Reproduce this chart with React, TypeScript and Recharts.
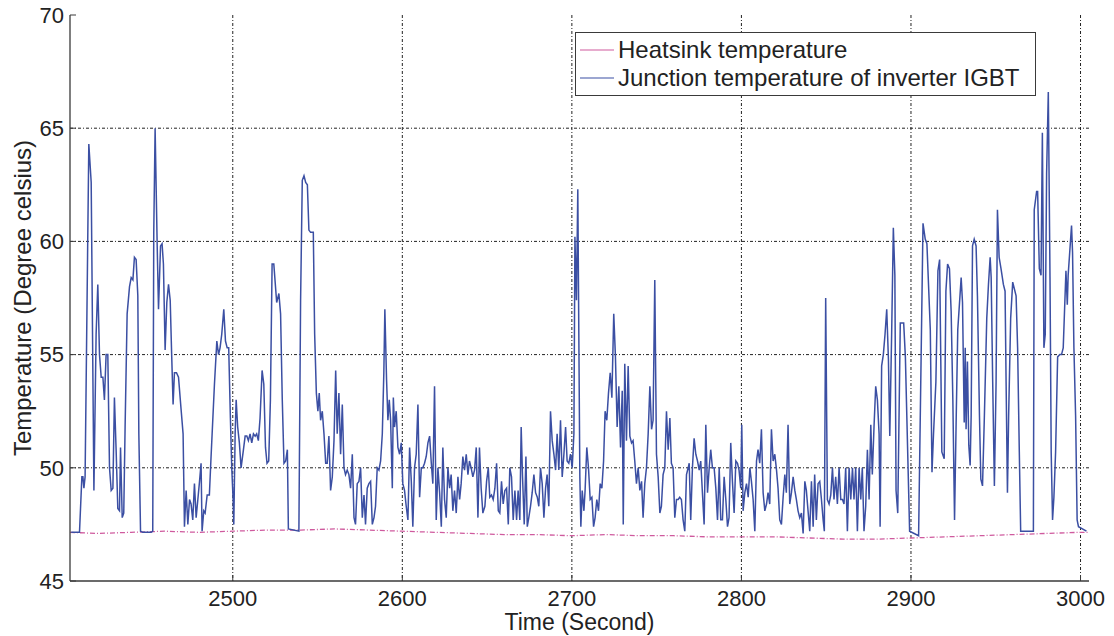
import React from 'react';
import { LineChart, Line, XAxis, YAxis, CartesianGrid, Legend } from 'recharts';

const timeTicks = [2500, 2600, 2700, 2800, 2900, 3000];
const tempTicks = [45, 50, 55, 60, 65, 70];

const heatsinkSec = [2404, 2420, 2440, 2460, 2480, 2500, 2520, 2540, 2560, 2580, 2600, 2620, 2640, 2660, 2680, 2700, 2720, 2740, 2760, 2780, 2800, 2820, 2840, 2860, 2880, 2900, 2920, 2940, 2960, 2980, 3000, 3005];
const heatsinkTemp = [47.15, 47.1, 47.15, 47.2, 47.15, 47.2, 47.25, 47.25, 47.3, 47.25, 47.2, 47.15, 47.1, 47.05, 47.05, 47.0, 47.05, 47.0, 47.0, 46.95, 46.95, 46.95, 46.9, 46.85, 46.85, 46.9, 46.95, 47.0, 47.05, 47.1, 47.15, 47.15];

const junctionSec = [
  2404.7, 2409.6, 2411.0, 2411.6, 2412.2, 2412.9, 2415.1, 2416.5, 2418.1, 2419.4, 2420.4, 2421.4, 2422.4, 2423.4, 2424.3, 2425.3, 2426.3, 2427.3, 2428.3, 2429.3,
  2430.2, 2431.2, 2432.2, 2433.2, 2433.8, 2434.8, 2435.7, 2436.5, 2437.7, 2439.1, 2440.1, 2441.1, 2442.0, 2443.0, 2444.0, 2444.6, 2445.6, 2446.9, 2451.9, 2452.8,
  2453.4, 2454.2, 2455.4, 2456.2, 2457.4, 2458.3, 2459.1, 2460.1, 2461.1, 2462.1, 2463.1, 2464.0, 2464.8, 2465.6, 2466.8, 2468.0, 2469.5, 2470.7, 2471.5, 2472.5,
  2473.5, 2474.5, 2475.4, 2476.4, 2477.4, 2478.4, 2479.4, 2480.4, 2481.3, 2481.9, 2482.9, 2483.7, 2484.9, 2486.2, 2487.2, 2489.2, 2490.6, 2491.6, 2492.5, 2493.5,
  2494.7, 2495.7, 2496.7, 2497.6, 2498.6, 2499.4, 2500.2, 2500.6, 2501.4, 2502.0, 2502.9, 2503.9, 2504.9, 2506.3, 2507.3, 2508.3, 2509.2, 2510.2, 2511.2, 2512.2,
  2513.2, 2514.1, 2515.1, 2516.1, 2517.3, 2518.3, 2519.3, 2520.2, 2521.2, 2522.2, 2523.2, 2524.2, 2525.9, 2527.2, 2528.2, 2529.2, 2530.2, 2531.2, 2532.2, 2532.8,
  2539.0, 2540.0, 2541.0, 2542.0, 2543.0, 2544.0, 2544.9, 2545.9, 2547.5, 2548.3, 2549.3, 2550.2, 2551.0, 2551.8, 2552.8, 2553.8, 2554.8, 2555.7, 2556.7, 2557.7,
  2558.7, 2559.7, 2560.7, 2561.6, 2562.6, 2563.6, 2564.6, 2565.6, 2566.5, 2567.5, 2568.5, 2569.5, 2570.5, 2571.5, 2572.4, 2573.4, 2574.4, 2575.4, 2576.4, 2577.4,
  2578.3, 2579.3, 2580.3, 2581.3, 2582.3, 2583.3, 2584.2, 2585.2, 2586.2, 2587.2, 2588.2, 2589.1, 2589.7, 2590.7, 2591.5, 2592.3, 2593.1, 2594.1, 2594.7, 2595.4,
  2596.4, 2597.4, 2598.4, 2599.4, 2600.3, 2601.3, 2602.3, 2603.3, 2604.3, 2605.3, 2606.2, 2607.2, 2608.2, 2609.2, 2610.2, 2611.2, 2612.1, 2613.1, 2614.1, 2615.1,
  2616.1, 2617.1, 2618.0, 2619.0, 2620.0, 2621.0, 2622.0, 2623.0, 2623.9, 2624.9, 2625.9, 2626.9, 2627.9, 2628.8, 2629.8, 2630.8, 2631.8, 2632.8, 2633.8, 2634.7,
  2635.7, 2636.7, 2637.7, 2638.7, 2639.6, 2640.6, 2641.6, 2642.6, 2643.6, 2644.6, 2645.5, 2646.5, 2647.5, 2648.7, 2649.7, 2650.7, 2651.6, 2652.6, 2653.6, 2654.6,
  2655.6, 2656.6, 2657.5, 2658.5, 2659.5, 2660.5, 2661.5, 2662.5, 2663.4, 2664.4, 2665.4, 2666.4, 2667.4, 2668.3, 2669.3, 2670.1, 2670.9, 2671.9, 2672.9, 2673.7,
  2674.6, 2675.6, 2676.6, 2677.6, 2678.6, 2679.6, 2680.5, 2681.5, 2682.5, 2683.5, 2684.5, 2685.4, 2686.4, 2687.4, 2688.4, 2689.4, 2690.4, 2691.3, 2692.3, 2693.3,
  2694.3, 2695.3, 2696.3, 2697.2, 2698.2, 2699.2, 2700.2, 2701.2, 2701.8, 2702.7, 2703.5, 2704.1, 2704.7, 2705.3, 2706.1, 2707.1, 2707.8, 2708.8, 2709.8, 2710.8,
  2711.8, 2712.8, 2713.7, 2714.7, 2715.7, 2716.7, 2717.7, 2718.7, 2719.6, 2720.6, 2721.6, 2722.6, 2723.6, 2724.7, 2725.7, 2726.7, 2727.7, 2728.7, 2729.7, 2730.3,
  2731.2, 2732.2, 2733.2, 2734.2, 2735.2, 2736.1, 2737.1, 2738.1, 2739.1, 2740.1, 2741.1, 2742.0, 2743.0, 2744.0, 2745.0, 2746.0, 2747.0, 2747.9, 2748.9, 2749.9,
  2750.9, 2751.9, 2752.8, 2753.8, 2754.8, 2755.8, 2756.8, 2757.8, 2758.7, 2759.7, 2760.7, 2761.7, 2762.7, 2763.6, 2764.6, 2765.6, 2766.6, 2767.6, 2768.6, 2769.2,
  2770.1, 2771.1, 2772.1, 2773.1, 2774.1, 2775.1, 2776.0, 2777.0, 2778.0, 2779.0, 2780.0, 2781.0, 2781.9, 2782.9, 2783.9, 2784.9, 2785.9, 2786.9, 2787.8, 2788.8,
  2789.8, 2790.8, 2791.8, 2792.7, 2793.7, 2794.7, 2795.7, 2796.7, 2797.7, 2798.6, 2799.6, 2800.2, 2801.0, 2802.0, 2803.0, 2804.0, 2805.0, 2805.9, 2806.9, 2807.9,
  2808.9, 2809.8, 2810.8, 2811.8, 2812.8, 2813.8, 2814.8, 2815.7, 2816.7, 2817.7, 2818.7, 2819.7, 2820.7, 2821.6, 2822.6, 2823.6, 2824.6, 2825.6, 2826.5, 2827.5,
  2828.5, 2829.5, 2830.5, 2831.5, 2832.4, 2833.4, 2834.4, 2835.4, 2836.4, 2837.4, 2838.3, 2839.3, 2840.3, 2841.3, 2842.3, 2843.2, 2844.2, 2845.2, 2846.2, 2847.2,
  2848.2, 2848.9, 2849.7, 2850.7, 2851.7, 2852.7, 2853.7, 2854.6, 2855.6, 2856.6, 2857.6, 2858.6, 2859.6, 2860.5, 2861.5, 2862.5, 2863.5, 2864.5, 2865.5, 2866.4,
  2867.4, 2868.4, 2869.4, 2870.4, 2871.3, 2872.3, 2873.3, 2874.3, 2875.3, 2876.3, 2877.2, 2878.2, 2879.2, 2880.2, 2881.2, 2881.8, 2882.7, 2883.7, 2884.7, 2885.7,
  2886.7, 2887.5, 2888.6, 2889.6, 2890.5, 2891.2, 2892.2, 2893.7, 2895.7, 2896.7, 2899.2, 2904.5, 2907.1, 2908.4, 2909.4, 2911.4, 2912.4, 2913.3, 2914.7, 2915.9,
  2916.9, 2918.2, 2919.6, 2920.6, 2921.6, 2922.7, 2923.7, 2924.7, 2925.7, 2926.7, 2927.6, 2929.6, 2930.4, 2931.4, 2932.0, 2932.5, 2933.3, 2934.1, 2934.9, 2935.5,
  2936.3, 2937.3, 2938.4, 2939.2, 2940.4, 2941.2, 2942.2, 2943.3, 2944.7, 2945.7, 2946.7, 2947.3, 2948.2, 2949.2, 2950.2, 2951.0, 2952.0, 2953.1, 2954.5, 2955.5,
  2956.1, 2956.9, 2957.6, 2958.8, 2960.0, 2961.0, 2962.0, 2962.9, 2963.9, 2964.7, 2972.2, 2972.7, 2974.1, 2974.7, 2975.7, 2976.7, 2977.5, 2978.4, 2979.2, 2980.0,
  2981.0, 2982.0, 2982.7, 2983.5, 2984.3, 2985.3, 2986.5, 2987.8, 2988.8, 2989.8, 2991.4, 2992.2, 2992.7, 2993.7, 2994.7, 2995.3, 2996.1, 2997.1, 2998.0, 2998.8,
  3003.5,
];

const junctionTemp = [
  47.15, 47.15, 49.6, 49.6, 49.1, 49.6, 64.3, 62.6, 49.0, 55.9, 58.1, 55.0, 54.0, 54.0, 53.0, 55.0, 55.0, 50.0, 49.0, 49.1,
  53.1, 50.8, 48.2, 48.1, 50.9, 47.8, 48.0, 51.8, 56.8, 58.0, 58.4, 58.3, 59.3, 59.2, 57.6, 51.5, 47.2, 47.15, 47.15, 47.2,
  60.4, 65.0, 59.9, 57.0, 59.8, 59.9, 59.0, 55.2, 57.3, 58.1, 57.4, 54.9, 52.8, 54.2, 54.2, 54.0, 52.6, 51.5, 47.4, 49.0,
  47.5, 48.6, 48.4, 47.7, 49.3, 47.8, 48.6, 49.4, 50.2, 47.2, 48.1, 48.0, 48.8, 48.8, 50.5, 53.7, 55.6, 55.0, 55.3, 55.9,
  57.0, 55.6, 55.3, 55.3, 52.2, 50.0, 48.6, 47.5, 51.5, 53.0, 51.8, 51.1, 50.0, 50.8, 51.4, 51.4, 51.2, 51.5, 51.1, 51.5,
  51.4, 51.5, 51.2, 52.2, 54.3, 53.7, 50.9, 50.2, 50.3, 53.0, 59.0, 59.0, 57.3, 57.7, 56.8, 53.0, 50.2, 50.3, 50.8, 47.3,
  47.2, 57.4, 62.7, 62.9, 62.6, 62.5, 60.5, 60.4, 60.4, 55.9, 53.3, 52.5, 53.3, 52.1, 52.5, 51.5, 50.2, 50.2, 51.4, 49.0,
  49.6, 51.2, 54.3, 51.5, 53.3, 50.6, 52.8, 50.0, 49.7, 49.9, 49.7, 49.1, 50.6, 47.8, 47.5, 49.3, 49.4, 50.0, 47.8, 48.8,
  47.5, 49.1, 49.3, 49.4, 47.5, 47.8, 48.3, 50.0, 49.9, 50.3, 51.5, 54.2, 57.0, 53.9, 52.1, 53.0, 52.1, 49.1, 53.1, 51.8,
  52.5, 50.9, 50.6, 51.1, 49.3, 49.0, 48.3, 47.7, 50.9, 49.4, 47.4, 50.0, 50.6, 52.8, 48.7, 50.0, 50.0, 50.2, 50.5, 51.1,
  51.4, 50.2, 49.3, 53.6, 47.7, 50.0, 48.9, 47.4, 50.9, 48.6, 47.8, 50.0, 49.1, 49.7, 48.1, 49.0, 48.0, 49.6, 48.6, 49.3,
  50.5, 49.9, 50.6, 49.7, 50.3, 50.0, 49.6, 49.9, 50.9, 47.8, 50.9, 49.1, 48.0, 48.3, 49.4, 50.0, 48.7, 48.8, 48.6, 49.1,
  50.2, 48.1, 48.0, 49.4, 48.4, 49.0, 49.1, 47.5, 50.0, 49.6, 47.7, 49.0, 47.7, 49.0, 47.7, 51.8, 49.6, 47.5, 50.5, 47.4,
  47.8, 48.3, 48.9, 49.7, 48.9, 48.7, 48.3, 50.0, 49.3, 47.8, 49.1, 49.7, 48.3, 52.5, 51.2, 50.6, 49.9, 51.5, 49.9, 52.1,
  49.6, 50.6, 51.8, 50.3, 50.2, 50.6, 50.0, 51.5, 60.2, 57.4, 62.3, 55.9, 49.6, 47.4, 49.0, 48.1, 49.0, 50.9, 50.0, 48.6,
  48.7, 47.4, 47.8, 48.6, 48.1, 49.3, 49.1, 50.3, 52.5, 52.1, 53.3, 54.2, 53.1, 56.8, 54.9, 51.8, 53.6, 50.9, 53.4, 47.5,
  54.6, 51.2, 54.5, 51.4, 51.1, 51.2, 50.3, 49.3, 50.0, 49.0, 49.4, 47.8, 49.3, 50.0, 51.5, 53.6, 51.7, 52.1, 58.3, 50.6,
  49.6, 48.0, 48.3, 49.7, 50.0, 52.5, 50.8, 52.2, 50.2, 50.0, 47.8, 48.6, 48.6, 48.7, 48.6, 47.7, 47.2, 49.7, 50.0, 50.2,
  47.7, 50.0, 51.3, 50.6, 50.3, 49.9, 50.3, 48.9, 47.5, 51.9, 48.9, 50.0, 50.8, 50.0, 50.0, 49.1, 47.7, 50.0, 47.7, 47.7,
  49.6, 48.6, 47.4, 47.8, 51.1, 49.4, 48.0, 50.3, 50.2, 49.9, 49.1, 51.9, 48.1, 48.9, 49.3, 48.7, 50.0, 49.4, 48.6, 47.2,
  50.3, 50.8, 50.2, 51.7, 48.9, 48.1, 48.4, 48.9, 48.4, 51.7, 50.3, 50.6, 49.9, 49.1, 47.7, 47.5, 48.7, 49.7, 48.9, 51.9,
  48.4, 48.9, 49.6, 49.0, 48.6, 48.1, 47.8, 48.0, 47.1, 49.4, 49.0, 48.1, 47.2, 49.4, 47.4, 49.7, 47.7, 49.3, 49.4, 48.6,
  47.7, 47.2, 57.5, 48.6, 48.4, 48.8, 50.0, 48.6, 49.6, 48.4, 50.0, 48.6, 48.6, 48.4, 50.0, 47.2, 50.0, 48.6, 50.0, 48.6,
  50.0, 47.2, 50.0, 48.6, 50.0, 47.2, 48.3, 50.8, 48.6, 51.9, 49.7, 51.8, 53.6, 53.0, 51.5, 47.4, 54.5, 55.0, 55.9, 57.0,
  54.8, 51.4, 55.9, 60.6, 58.5, 49.0, 48.0, 56.4, 56.4, 54.9, 47.2, 47.0, 60.8, 60.1, 59.9, 56.1, 49.8, 51.5, 53.8, 58.7,
  59.2, 50.7, 50.4, 57.8, 59.0, 58.8, 56.9, 53.0, 47.7, 52.3, 56.1, 58.4, 57.3, 52.0, 55.3, 51.7, 54.7, 51.0, 50.1, 52.3,
  59.8, 60.1, 59.8, 57.6, 52.3, 49.5, 49.2, 52.3, 56.6, 58.1, 59.3, 58.4, 53.8, 49.2, 53.8, 61.4, 59.3, 58.8, 58.1, 57.8,
  53.8, 48.9, 52.3, 56.6, 58.2, 57.9, 57.6, 55.3, 50.7, 47.2, 47.2, 61.4, 62.2, 62.2, 58.8, 58.5, 64.8, 55.3, 55.9, 63.0,
  66.6, 58.4, 50.7, 47.7, 48.7, 50.7, 54.9, 55.0, 55.0, 55.3, 58.7, 57.2, 58.5, 59.6, 60.7, 59.5, 55.3, 52.3, 47.7, 47.4,
  47.2,
];

const heatsinkData = heatsinkSec.map((sec, i) => ({ sec, temp: heatsinkTemp[i] }));
const junctionData = junctionSec.map((sec, i) => ({ sec, temp: junctionTemp[i] }));

const FONT = '"Liberation Sans", Arial, Helvetica, sans-serif';
const HEATSINK_COLOR = '#cf5a9e';
const JUNCTION_COLOR = '#3b4fa3';
const AXIS_COLOR = '#3a3a3a';

const legendItems = [
  { name: 'Heatsink temperature', color: HEATSINK_COLOR },
  { name: 'Junction temperature of inverter IGBT', color: JUNCTION_COLOR },
];

const LegendBox = () => (
  <div style={{ border: `1px solid ${AXIS_COLOR}`, background: '#fff', padding: '3px 6px 3px 4px', fontFamily: FONT, fontSize: 24, color: '#222' }}>
    {legendItems.map(item => (
      <div key={item.name} style={{ display: 'flex', alignItems: 'center', height: 28, whiteSpace: 'nowrap' }}>
        <svg width={34} height={4} style={{ marginRight: 4 }}>
          <line x1={0} y1={2} x2={34} y2={2} stroke={item.color} strokeWidth={1.2} />
        </svg>
        <span>{item.name}</span>
      </div>
    ))}
  </div>
);

const tickStyle = { fontSize: 22, fill: '#222', fontFamily: FONT };

export default function App() {
  return (
    <div style={{ position: 'absolute', left: 0, top: 0, width: 1114, height: 636, background: '#fff' }}>
      <LineChart width={1114} height={636} margin={{ top: 15, right: 25, bottom: 0, left: 0 }}>
        <CartesianGrid stroke="#222" strokeDasharray="3 2 1 2" strokeWidth={1} horizontalValues={[50, 55, 60, 65]} verticalValues={timeTicks} />
        <XAxis dataKey="sec" type="number" domain={[2404, 3005]} ticks={timeTicks} interval={0}
               height={55} tickSize={-6} tickMargin={15} tick={tickStyle}
               axisLine={{ stroke: AXIS_COLOR, strokeWidth: 1.3 }} tickLine={{ stroke: AXIS_COLOR }}
               label={{ value: 'Time (Second)', position: 'insideBottom', offset: 6, fontSize: 23, fill: '#222', fontFamily: FONT }} />
        <XAxis xAxisId="top" orientation="top" dataKey="sec" type="number" domain={[2404, 3005]} ticks={timeTicks}
               interval={0} height={0} tick={false} tickSize={-6}
               axisLine={{ stroke: AXIS_COLOR, strokeWidth: 1.3 }} tickLine={{ stroke: AXIS_COLOR }} />
        <YAxis type="number" domain={[45, 70]} ticks={tempTicks} interval={0} width={70}
               tickSize={-6} tickMargin={12} tick={tickStyle}
               axisLine={{ stroke: AXIS_COLOR, strokeWidth: 1.3 }} tickLine={{ stroke: AXIS_COLOR }}
               label={{ value: 'Temperature (Degree celsius)', angle: -90, position: 'center', dx: -13, fontSize: 24, fill: '#222', fontFamily: FONT }} />
        <YAxis yAxisId="right" orientation="right" type="number" domain={[45, 70]} ticks={tempTicks} interval={0}
               width={0} tick={false} tickSize={-6}
               axisLine={{ stroke: AXIS_COLOR, strokeWidth: 1.3 }} tickLine={{ stroke: AXIS_COLOR }} />
        <Legend content={<LegendBox />} layout="vertical" align="center" verticalAlign="middle"
                wrapperStyle={{ left: 575, top: 32, width: 461 }} />
        <Line data={heatsinkData} dataKey="temp" name="Heatsink temperature" type="linear" stroke={HEATSINK_COLOR}
              strokeWidth={1.3} strokeDasharray="5 2 1 2" dot={false} activeDot={false} isAnimationActive={false} />
        <Line data={junctionData} dataKey="temp" name="Junction temperature of inverter IGBT" type="linear" stroke={JUNCTION_COLOR}
              strokeWidth={1.5} dot={false} activeDot={false} isAnimationActive={false} />
      </LineChart>
    </div>
  );
}
